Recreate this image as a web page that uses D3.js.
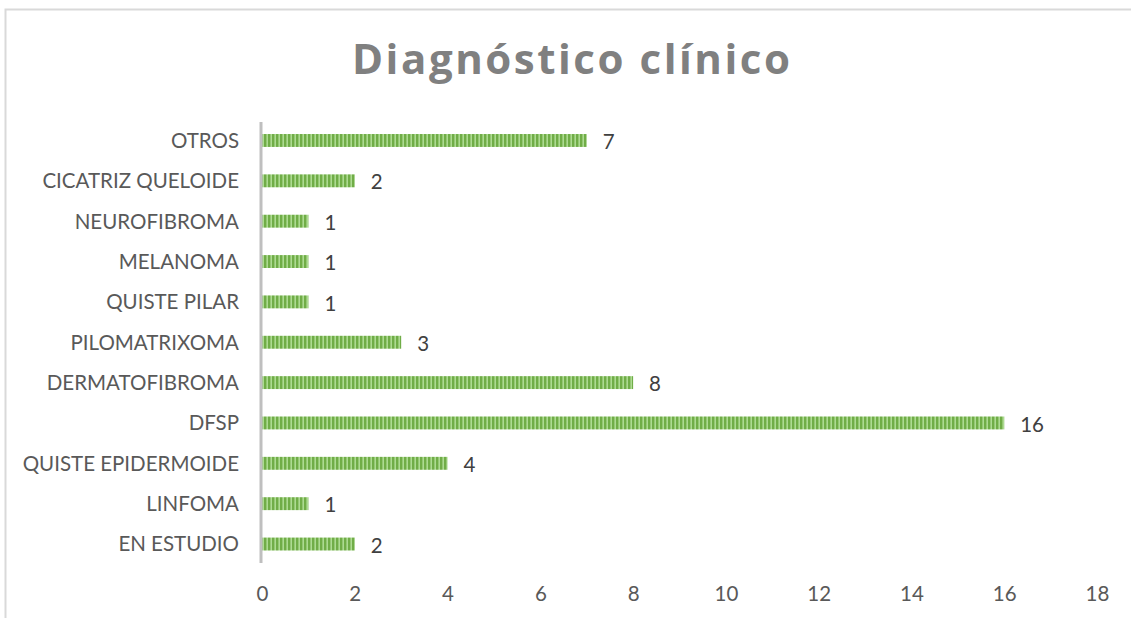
<!DOCTYPE html>
<html>
<head>
<meta charset="utf-8">
<script src="https://cdn.jsdelivr.net/npm/d3@7"></script>
<style>
  html, body { margin: 0; padding: 0; background: #fff; }
  svg { display: block; }
</style>
</head>
<body>
<svg id="chart" width="1131" height="618"></svg>
<script>
// Diagnoses, listed top to bottom
const categories = [
  "OTROS", "CICATRIZ QUELOIDE", "NEUROFIBROMA", "MELANOMA", "QUISTE PILAR",
  "PILOMATRIXOMA", "DERMATOFIBROMA", "DFSP", "QUISTE EPIDERMOIDE", "LINFOMA", "EN ESTUDIO"
];
const counts = [7, 2, 1, 1, 1, 3, 8, 16, 4, 1, 2];
const xTicks = [0, 2, 4, 6, 8, 10, 12, 14, 16, 18];
const title = "Diagnóstico clínico";

const svg = d3.select("#chart");
const font = "Lato, 'Open Sans', sans-serif";
const labelSize = 20.5;

// Chart frame
svg.append("rect")
  .attr("x", 5.5).attr("y", 9.5)
  .attr("width", 1140).attr("height", 630)
  .attr("fill", "#fff")
  .attr("stroke", "#d9d9d9").attr("stroke-width", 2);

// Striped fill for the bars
const defs = svg.append("defs");
const pat = defs.append("pattern")
  .attr("id", "stripes")
  .attr("patternUnits", "userSpaceOnUse")
  .attr("width", 4).attr("height", 20);
pat.append("rect").attr("width", 4).attr("height", 20).attr("fill", "#addb92");
pat.append("rect").attr("width", 2.4).attr("height", 20).attr("fill", "#70ad47");

const x = d3.scaleLinear().domain([0, 18]).range([262, 1097]);
const y = d3.scaleBand().domain(categories).range([120.3, 564.2]).paddingInner(0.68).paddingOuter(0.34);

// Title
svg.append("text")
  .attr("x", 571).attr("y", 74)
  .attr("text-anchor", "middle")
  .attr("font-family", "'Open Sans', sans-serif")
  .attr("font-weight", "bold")
  .attr("font-size", 42)
  .attr("fill", "#808080")
  .attr("textLength", 438)
  .attr("lengthAdjust", "spacing")
  .text(title);

// Bars
svg.append("g").selectAll("rect")
  .data(categories)
  .join("rect")
  .attr("x", x(0))
  .attr("y", d => y(d))
  .attr("width", (d, i) => x(counts[i]) - x(0))
  .attr("height", y.bandwidth())
  .attr("fill", "url(#stripes)");

// Value labels
svg.append("g").selectAll("text")
  .data(categories)
  .join("text")
  .attr("x", (d, i) => x(counts[i]) + 16)
  .attr("y", d => y(d) + y.bandwidth() / 2)
  .attr("dy", "0.42em")
  .attr("font-family", font)
  .attr("font-size", labelSize)
  .attr("fill", "#404040")
  .text((d, i) => counts[i]);

// Category axis
const yAxis = svg.append("g")
  .attr("transform", `translate(${x(0) - 1},0)`)
  .call(d3.axisLeft(y).tickSize(0).tickPadding(22));
yAxis.select(".domain").attr("stroke", "#bfbfbf").attr("stroke-width", 3)
  .attr("d", "M0,122V563");
yAxis.selectAll("text")
  .attr("dy", "0.36em")
  .attr("font-family", font)
  .attr("font-size", labelSize)
  .attr("fill", "#595959");

// Value axis (labels only)
const xAxis = svg.append("g")
  .attr("transform", "translate(0,576)")
  .call(d3.axisBottom(x).tickValues(xTicks).tickSize(0).tickPadding(10));
xAxis.select(".domain").remove();
xAxis.selectAll("text")
  .attr("font-family", font)
  .attr("font-size", labelSize)
  .attr("fill", "#595959");
</script>
</body>
</html>
